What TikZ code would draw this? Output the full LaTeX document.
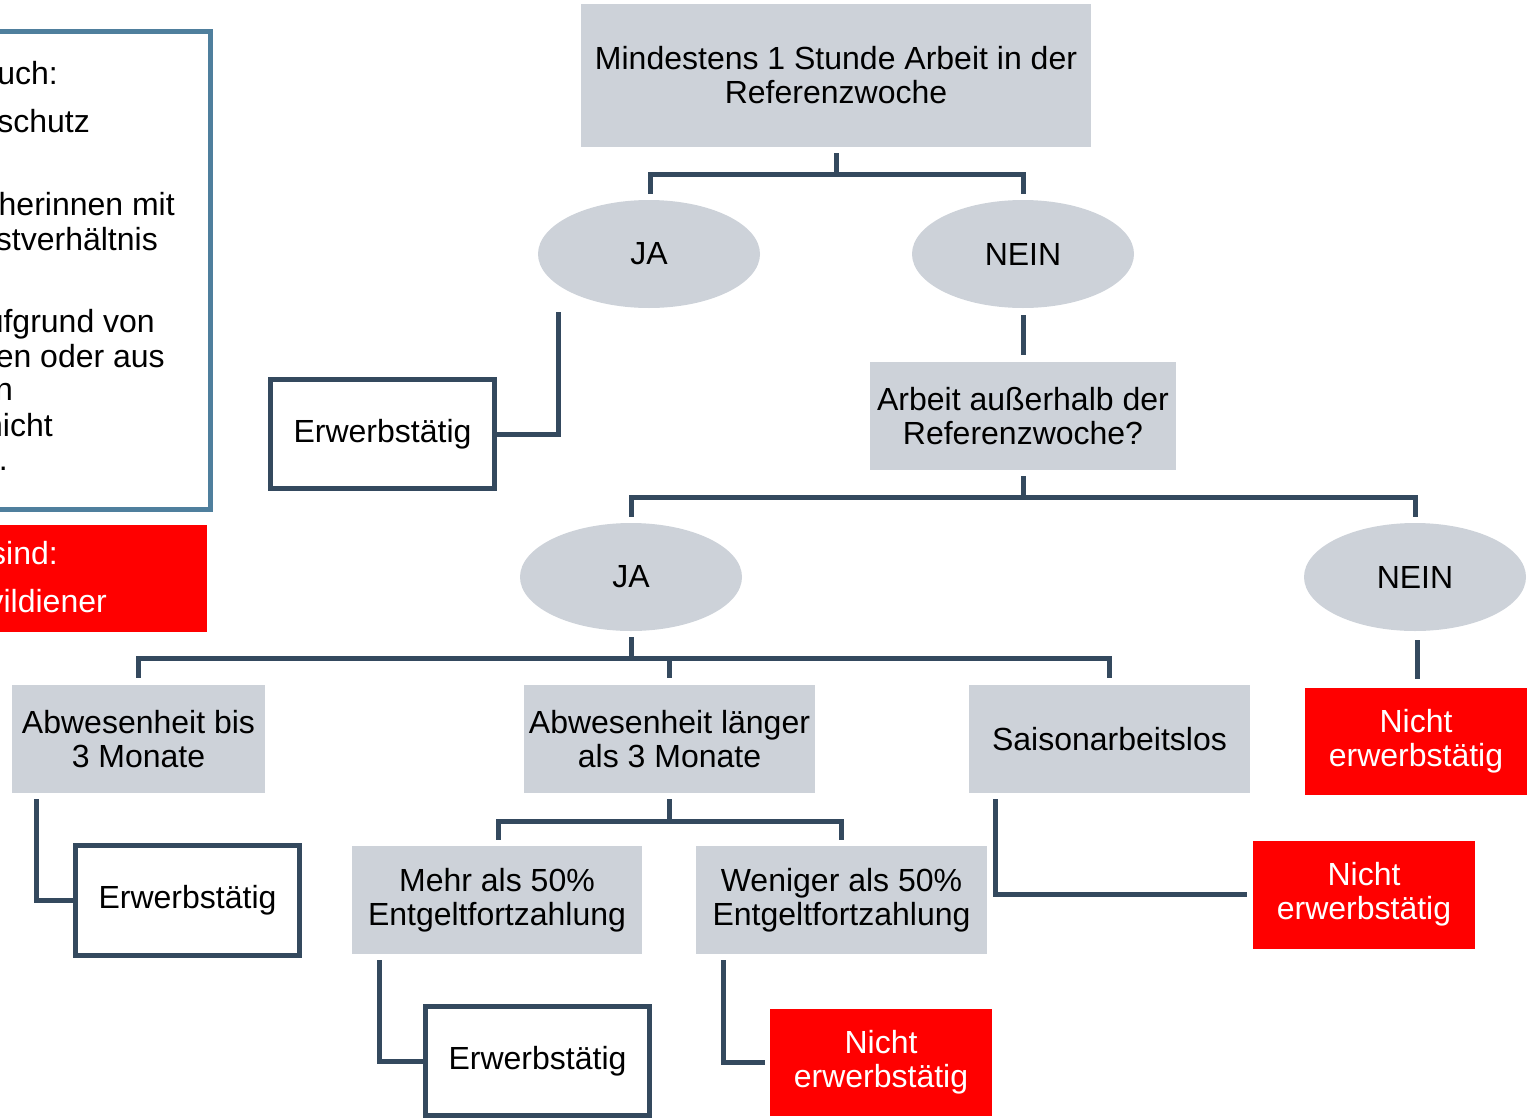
\documentclass[tikz,border=0pt]{standalone}
\usepackage{fontspec}
\setmainfont{Liberation Sans}
\usetikzlibrary{calc,shapes.geometric}
\definecolor{boxgray}{HTML}{CDD2D9}
\definecolor{conncol}{HTML}{34495E}
\definecolor{leftblue}{HTML}{4F7F9D}
\definecolor{redbox}{HTML}{FF0000}
\tikzset{
  txt/.style={font=\fontsize{32}{34}\selectfont, align=center, inner sep=0pt, outer sep=0pt},
  graybox/.style={txt, fill=boxgray, rectangle},
  oval/.style={txt, fill=boxgray, ellipse, minimum width=222pt, minimum height=108pt},
  resultbox/.style={txt, draw=conncol, line width=5pt, fill=white, rectangle, minimum width=224pt, minimum height=109pt},
  redresult/.style={txt, fill=redbox, text=white, rectangle, minimum width=222pt, minimum height=107pt},
  conn/.style={draw=conncol, line width=5pt},
  frag/.style={font=\fontsize{32}{34}\selectfont, anchor=base east, inner sep=0pt}
}
\begin{document}
\begin{tikzpicture}[x=1pt,y=-1pt]
\useasboundingbox (0,0) rectangle (1534,1119);
\clip (0,0) rectangle (1534,1119);
% left info boxes (clipped at the picture edge)
\draw[leftblue, line width=5pt] (-20,31) rectangle (210,509);
\node[frag] (f1) at (58,84) {uch:};
\node[frag] (f2) at (90,132) {schutz};
\node[frag] (f3) at (175,215) {herinnen mit};
\node[frag] (f4) at (158,250) {stverhältnis};
\node[frag] (f5) at (155,332) {ufgrund von};
\node[frag] (f6) at (165,367) {en oder aus};
\node[frag] (f7) at (13,400) {n};
\node[frag] (f8) at (53,436) {nicht};
\node[frag] (f9) at (8,470) {.};
\fill[redbox] (-20,525) rectangle (207,632);
\node[frag, text=white] (f10) at (58,564) {sind:};
\node[frag, text=white] (f11) at (107,612) {vildiener};

% nodes
\node[graybox, minimum width=510pt, minimum height=143pt] (top) at (836,75.5) {Mindestens 1 Stunde Arbeit in der\\Referenzwoche};
\node[oval] (ja1) at (649,254) {JA};
\node[oval] (nein1) at (1023,254) {NEIN};
\node[resultbox] (erw1) at (382.5,434) {Erwerbstätig};
\node[graybox, minimum width=306pt, minimum height=108pt] (frage) at (1023,416) {Arbeit außerhalb der\\Referenzwoche?};
\node[oval] (ja2) at (631,577) {JA};
\node[oval] (nein2) at (1415,577) {NEIN};
\node[redresult] (nicht1) at (1416,741) {Nicht\\erwerbstätig};
\node[graybox, minimum width=253pt, minimum height=108pt] (abw1) at (138.5,739) {Abwesenheit bis\\3 Monate};
\node[graybox, minimum width=291pt, minimum height=108pt] (abw2) at (669.5,739) {Abwesenheit länger\\als 3 Monate};
\node[graybox, minimum width=281pt, minimum height=108pt] (saison) at (1109.5,739) {Saisonarbeitslos};
\node[resultbox, minimum height=110pt] (erw2) at (187.5,900.5) {Erwerbstätig};
\node[graybox, minimum width=290pt, minimum height=108pt] (mehr) at (497,900) {Mehr als 50\%\\Entgeltfortzahlung};
\node[graybox, minimum width=291pt, minimum height=108pt] (weniger) at (841.5,900) {Weniger als 50\%\\Entgeltfortzahlung};
\node[resultbox] (erw3) at (537.5,1061) {Erwerbstätig};
\node[redresult] (nicht3) at (881,1062) {Nicht\\erwerbstätig};
\node[redresult, minimum height=108pt] (nicht2) at (1364,894.5) {Nicht\\erwerbstätig};

% connectors
\draw[conn] ($(top.south)+(0,6)$) -- ++(0,21) -| ($(ja1.north)+(1,-6)$);
\draw[conn] ($(top.south)+(0,27)$) -| ($(nein1.north)+(0,-6)$);
\draw[conn] ($(ja1.south)+(-91,4)$) |- (erw1.east);
\draw[conn] ($(nein1.south)+(0,7)$) -- ($(frage.north)+(0,-7)$);
\draw[conn] ($(frage.south)+(0,6)$) -- ++(0,21) -| ($(ja2.north)+(0,-6)$);
\draw[conn] ($(frage.south)+(0,27)$) -| ($(nein2.north)+(0,-6)$);
\draw[conn] ($(nein2.south)+(2,9)$) -- ($(nicht1.north)+(1,-9)$);
\draw[conn] ($(ja2.south)+(0,6)$) -- ++(0,21) -| ($(abw1.north)+(0,-7)$);
\draw[conn] ($(ja2.south)+(0,27)$) -| ($(abw2.north)+(0,-7)$);
\draw[conn] ($(ja2.south)+(0,27)$) -| ($(saison.north)+(0,-7)$);
\draw[conn] ($(abw1.south)+(-102.5,6)$) |- (erw2.west);
\draw[conn] ($(abw2.south)+(0,6)$) -- ++(0,22) -| ($(mehr.north)+(1,-6)$);
\draw[conn] ($(abw2.south)+(0,28)$) -| ($(weniger.north)+(0,-6)$);
\draw[conn] ($(mehr.south)+(-118,6)$) |- (erw3.west);
\draw[conn] ($(weniger.south)+(-118.5,6)$) |- ($(nicht3.west)+(-5,0)$);
\draw[conn] ($(saison.south)+(-114.5,6)$) |- ($(nicht2.west)+(-6,0)$);
\end{tikzpicture}
\end{document}
